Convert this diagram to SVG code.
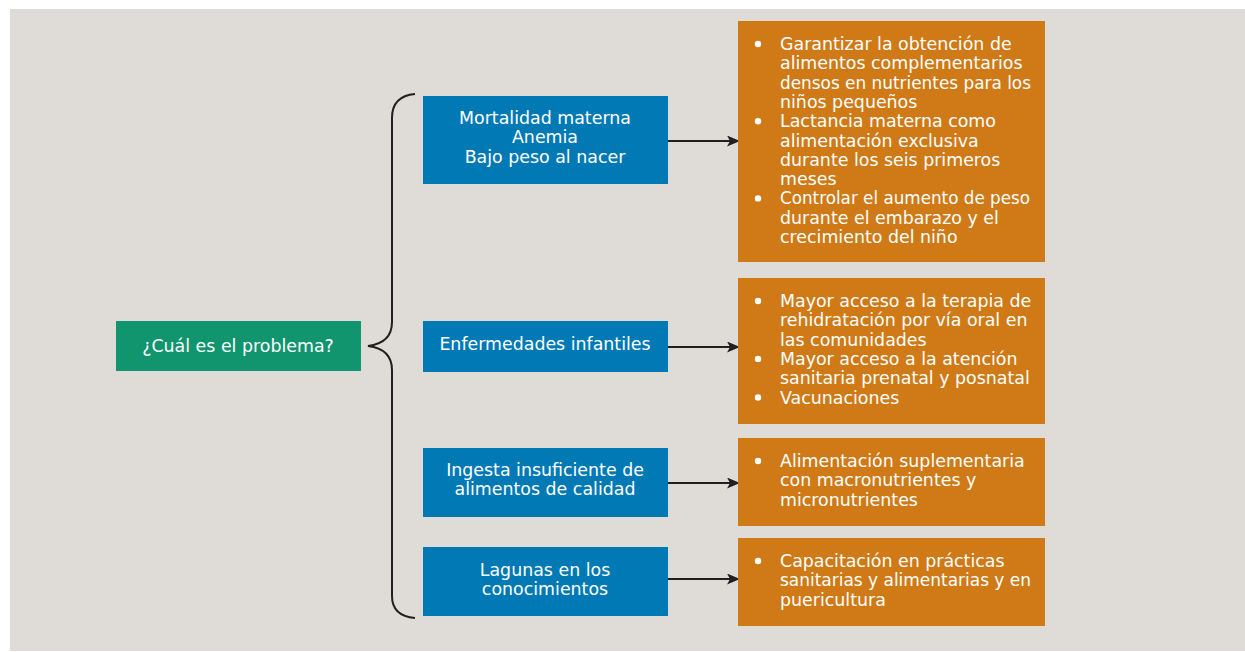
<svg xmlns="http://www.w3.org/2000/svg" width="1245" height="652" viewBox="0 0 1245 652">
<defs>
<style>
.t{font-family:"DejaVu Sans","Noto Sans","Liberation Sans",sans-serif;font-size:17.4px;fill:#fff}
.c{text-anchor:middle}
.blue{fill:#0079b5}
.org{fill:#cf7a16}
.ln{stroke:#231f20;stroke-width:2;fill:none}
.b{fill:#fff}
</style>
<marker id="ah" viewBox="0 0 13 11" refX="13" refY="5.5" markerWidth="13" markerHeight="11" markerUnits="userSpaceOnUse" orient="auto">
<path d="M0,0 L13,5.5 L0,11 L3,5.5 Z" fill="#231f20"/>
</marker>
</defs>
<rect x="10" y="9" width="1235" height="642" fill="#dfdbd6"/>
<g id="connectors">
<path class="ln" d="M415,94 Q392,96 392,118 L392,322 Q392,343 368,346 Q392,349 392,370 L392,596 Q392,616 415,618"/>
<line class="ln" x1="668" y1="141" x2="740" y2="141" marker-end="url(#ah)"/>
<line class="ln" x1="668" y1="347" x2="740" y2="347" marker-end="url(#ah)"/>
<line class="ln" x1="668" y1="483" x2="740" y2="483" marker-end="url(#ah)"/>
<line class="ln" x1="668" y1="579" x2="740" y2="579" marker-end="url(#ah)"/>
</g>
<g id="problema">
<rect x="116" y="321" width="245" height="50" fill="#10956f"/>
<text class="t c" x="238" y="352">¿Cuál es el problema?</text>
</g>
<g id="p1">
<rect class="blue" x="423" y="96" width="245" height="88"/>
<text class="t c" x="545" y="124">Mortalidad materna</text>
<text class="t c" x="545" y="143">Anemia</text>
<text class="t c" x="545" y="163">Bajo peso al nacer</text>
</g>
<g id="p2">
<rect class="blue" x="423" y="321" width="245" height="51"/>
<text class="t c" x="545" y="350">Enfermedades infantiles</text>
</g>
<g id="p3">
<rect class="blue" x="423" y="448" width="245" height="69"/>
<text class="t c" x="545" y="476">Ingesta insuficiente de</text>
<text class="t c" x="545" y="495">alimentos de calidad</text>
</g>
<g id="p4">
<rect class="blue" x="423" y="547" width="245" height="69"/>
<text class="t c" x="545" y="576">Lagunas en los</text>
<text class="t c" x="545" y="595">conocimientos</text>
</g>
<g id="s1">
<rect class="org" x="738" y="21" width="307" height="241"/>
<circle class="b" cx="758" cy="44" r="3.2"/>
<text class="t" x="780" y="50">Garantizar la obtención de</text>
<text class="t" x="780" y="69.3">alimentos complementarios</text>
<text class="t" x="780" y="88.6" textLength="251" lengthAdjust="spacingAndGlyphs">densos en nutrientes para los</text>
<text class="t" x="780" y="107.9">niños pequeños</text>
<circle class="b" cx="758" cy="121.2" r="3.2"/>
<text class="t" x="780" y="127.2">Lactancia materna como</text>
<text class="t" x="780" y="146.5">alimentación exclusiva</text>
<text class="t" x="780" y="165.8">durante los seis primeros</text>
<text class="t" x="780" y="185.1">meses</text>
<circle class="b" cx="758" cy="198.4" r="3.2"/>
<text class="t" x="780" y="204.4" textLength="250" lengthAdjust="spacingAndGlyphs">Controlar el aumento de peso</text>
<text class="t" x="780" y="223.7">durante el embarazo y el</text>
<text class="t" x="780" y="243">crecimiento del niño</text>
</g>
<g id="s2">
<rect class="org" x="738" y="278" width="307" height="146"/>
<circle class="b" cx="758" cy="301" r="3.2"/>
<text class="t" x="780" y="307">Mayor acceso a la terapia de</text>
<text class="t" x="780" y="326.3">rehidratación por vía oral en</text>
<text class="t" x="780" y="345.6">las comunidades</text>
<circle class="b" cx="758" cy="358.9" r="3.2"/>
<text class="t" x="780" y="364.9">Mayor acceso a la atención</text>
<text class="t" x="780" y="384.2">sanitaria prenatal y posnatal</text>
<circle class="b" cx="758" cy="397.5" r="3.2"/>
<text class="t" x="780" y="403.5">Vacunaciones</text>
</g>
<g id="s3">
<rect class="org" x="738" y="438" width="307" height="88"/>
<circle class="b" cx="758" cy="461" r="3.2"/>
<text class="t" x="780" y="467">Alimentación suplementaria</text>
<text class="t" x="780" y="486.3">con macronutrientes y</text>
<text class="t" x="780" y="505.6">micronutrientes</text>
</g>
<g id="s4">
<rect class="org" x="738" y="538" width="307" height="88"/>
<circle class="b" cx="758" cy="561" r="3.2"/>
<text class="t" x="780" y="567">Capacitación en prácticas</text>
<text class="t" x="780" y="586.3" textLength="251" lengthAdjust="spacingAndGlyphs">sanitarias y alimentarias y en</text>
<text class="t" x="780" y="605.6">puericultura</text>
</g>
</svg>
